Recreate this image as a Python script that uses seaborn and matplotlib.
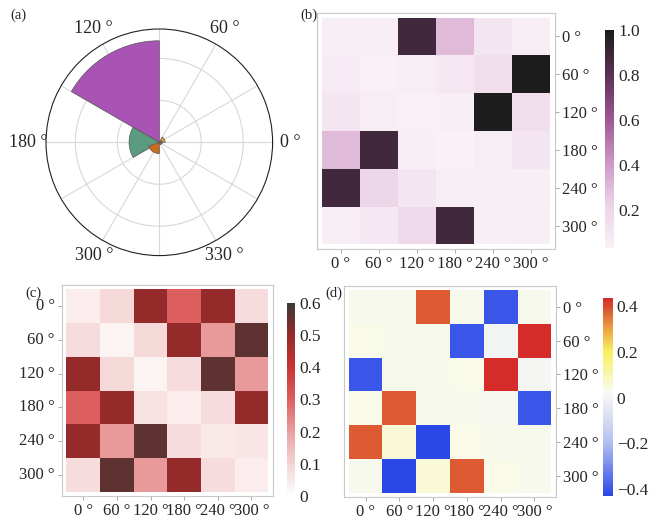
#!/usr/bin/env python3
"""
Polar distribution (a) and three 6x6 angle-angle maps (b)-(d).
"""

import numpy as np
import pandas as pd
import matplotlib
matplotlib.use("Agg")
import matplotlib.pyplot as plt
from matplotlib.colors import LinearSegmentedColormap
import seaborn as sns

# ---- data -----------------------------------------------------------------
angle_labels = ["0 °", "60 °", "120 °", "180 °", "240 °", "300 °"]

# panel (a): polar wedges (start angle in degrees, width, radius, colour)
wedge_start = [90, 150, 200, 0, 330, 290]
wedge_width = [60, 60, 70, 60, 60, 40]
wedge_radius = [2.42, 0.72, 0.27, 0.14, 0.07, 0.06]
wedge_colors = ["#a953b5", "#5b9c80", "#cc6a1e", "#e39a26", "#6078b0", "#d88030"]
polar_tick_pos = [0, 60, 120, 180, 240, 300]
polar_tick_text = ["0 °", "60 °", "120 °", "180 °", "300 °", "330 °"]

# panel (b)
corr_b = [
    [0.05, 0.05, 0.88, 0.30, 0.10, 0.06],
    [0.07, 0.04, 0.06, 0.09, 0.14, 1.00],
    [0.10, 0.06, 0.04, 0.05, 0.99, 0.15],
    [0.30, 0.88, 0.05, 0.03, 0.06, 0.10],
    [0.88, 0.20, 0.10, 0.06, 0.05, 0.05],
    [0.06, 0.09, 0.18, 0.88, 0.05, 0.06],
]

# panel (c)
corr_c = [
    [0.04, 0.09, 0.50, 0.30, 0.50, 0.08],
    [0.08, 0.03, 0.09, 0.50, 0.21, 0.56],
    [0.50, 0.09, 0.03, 0.08, 0.56, 0.21],
    [0.30, 0.50, 0.07, 0.04, 0.08, 0.50],
    [0.50, 0.21, 0.56, 0.08, 0.05, 0.06],
    [0.08, 0.56, 0.21, 0.50, 0.08, 0.04],
]

# panel (d)
corr_d = [
    [0.02, 0.02, 0.38, 0.02, -0.40, 0.02],
    [0.03, 0.02, 0.02, -0.40, -0.005, 0.43],
    [-0.40, 0.02, 0.02, 0.03, 0.43, 0.0],
    [0.03, 0.38, 0.02, 0.02, 0.01, -0.40],
    [0.38, 0.05, -0.43, 0.03, 0.02, 0.02],
    [0.02, -0.43, 0.05, 0.38, 0.03, 0.02],
]

# ---- style ----------------------------------------------------------------
sns.set_style("white")
plt.rcParams["font.family"] = ["Liberation Serif", "DejaVu Serif"]

W, H = 652, 519
fig = plt.figure(figsize=(W / 100, H / 100), dpi=100)


def box(x0, y0, x1, y1):
    """pixel box (top-left origin) -> figure fraction rect"""
    return [x0 / W, 1 - y1 / H, (x1 - x0) / W, (y1 - y0) / H]


cmap_b = LinearSegmentedColormap.from_list(
    "purp", [(0.0, "#f9f1f7"), (0.2, "#ecd2e7"), (0.4, "#cb94c4"),
             (0.6, "#9a5592"), (0.8, "#5a3052"), (1.0, "#1c1c1c")])
cmap_c = LinearSegmentedColormap.from_list(
    "reds", [(0.0, "#ffffff"), (1 / 6, "#f4d3d3"), (2 / 6, "#e9a0a0"),
             (3 / 6, "#dc5e5e"), (4 / 6, "#c83434"), (5 / 6, "#962a2a"),
             (1.0, "#3a3838")])
cmap_d = LinearSegmentedColormap.from_list(
    "div", [(0.0, "#2a48e8"), (0.27, "#b4c0f0"), (0.5, "#f6f6f4"),
            (0.53, "#f9faea"), (0.73, "#f8f060"), (0.85, "#eca040"),
            (1.0, "#d42828")])

# ---- (a) polar ------------------------------------------------------------
axp = fig.add_axes(box(46, 29, 272.6, 255.6), projection="polar")
axp.bar(np.deg2rad(wedge_start), wedge_radius, width=np.deg2rad(wedge_width),
        align="edge", color=wedge_colors, edgecolor="#555555", linewidth=0.5)
axp.set_ylim(0, 2.7)
axp.set_yticks([1, 2])
axp.set_yticklabels([])
axp.set_xticks(np.deg2rad(np.arange(0, 360, 30)))
axp.set_xticklabels([""] * 12)
axp.grid(True, color="#d8d8d8", linewidth=0.8)
axp.spines["polar"].set_color("#222222")
axp.spines["polar"].set_linewidth(0.8)
for pos, txt in zip(polar_tick_pos, polar_tick_text):
    axp.text(np.deg2rad(pos), 3.12, txt, ha="center", va="center", fontsize=13)
fig.text(10 / W, 1 - 15 / H, "(a)", fontsize=10.5, va="center")


# ---- heatmaps -------------------------------------------------------------
def draw_map(data, frame, cbar_box, cmap, vmin, vmax, ticks, side, label, label_xy):
    ax = fig.add_axes(box(*frame))
    cax = fig.add_axes(box(*cbar_box))
    df = pd.DataFrame(data, index=angle_labels, columns=angle_labels)
    sns.heatmap(df, ax=ax, cbar_ax=cax, cmap=cmap, vmin=vmin, vmax=vmax,
                square=False, linewidths=0, cbar_kws={"ticks": ticks})
    ax.set_xlim(-0.14, 6.14)
    ax.set_ylim(6.12, -0.12)
    for sp in ax.spines.values():
        sp.set_visible(True)
        sp.set_color("#c8c8c8")
        sp.set_linewidth(0.8)
    ax.tick_params(axis="both", length=3, width=0.6, color="#999999",
                   labelsize=12, pad=2)
    ax.set_xticklabels(angle_labels, rotation=0)
    ax.set_yticklabels(angle_labels, rotation=0)
    if side == "right":
        ax.yaxis.tick_right()
    ax.tick_params(axis="x", bottom=True)
    ax.tick_params(axis="y", left=(side == "left"), right=(side == "right"))
    cax.tick_params(length=0, labelsize=12.5, pad=3)
    cax.yaxis.set_ticks_position("right")
    for sp in cax.spines.values():
        sp.set_visible(False)
    cax.set_yticklabels([("\u2212" + t.lstrip("-")) if t.startswith("-") else t
                         for t in [f"{v:g}" if v != 1 else "1.0" for v in ticks]])
    fig.text(label_xy[0] / W, 1 - label_xy[1] / H, label, fontsize=10.5, va="center")
    return ax


draw_map(corr_b, (316.7, 13, 555, 249), (605, 30, 614, 248), cmap_b,
         0.03, 1.0, [0.2, 0.4, 0.6, 0.8, 1.0], "right", "(b)", (300, 15))
draw_map(corr_c, (61.7, 285, 273, 496), (286.7, 302.7, 295, 496), cmap_c,
         0.0, 0.6, [0, 0.1, 0.2, 0.3, 0.4, 0.5, 0.6], "left", "(c)", (25, 293))
draw_map(corr_d, (344, 286, 556, 496.7), (602.7, 298, 612.7, 496), cmap_d,
         -0.43, 0.435, [-0.4, -0.2, 0, 0.2, 0.4], "right", "(d)", (325, 293))

fig.savefig("out.png", dpi=100)
